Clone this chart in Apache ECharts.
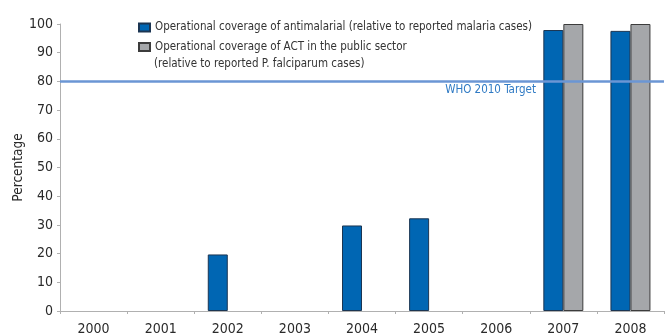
<!DOCTYPE html>
<html>
<head>
<meta charset="utf-8">
<script src="https://cdn.jsdelivr.net/npm/echarts@6/dist/echarts.min.js"></script>
<style>
  html, body { margin: 0; padding: 0; background: #fff; }
  #chart { width: 665px; height: 336px; }
</style>
</head>
<body>
<div id="chart"></div>
<script>
// Years on the category axis
const years = ['2000', '2001', '2002', '2003', '2004', '2005', '2006', '2007', '2008'];

// Operational coverage of antimalarial (% of reported malaria cases)
const antimalarialCoverage = [null, null, 19.7, null, 29.8, 32.3, null, 97.9, 97.6];

// Operational coverage of ACT in the public sector (% of reported P. falciparum cases)
const actCoverage = [null, null, null, null, null, null, null, 100, 100];

// WHO 2010 target level
const targetValue = 80;
const targetLabel = 'WHO 2010 Target';

// Legend wording; the second entry wraps onto a note line
const seriesNames = [
  'Operational coverage of antimalarial (relative to reported malaria cases)',
  'Operational coverage of ACT in the public sector'
];
const actNote = '(relative to reported P. falciparum cases)';

const FONT = "'DejaVu Sans Condensed', 'Liberation Sans Narrow', sans-serif";
const LEGEND_SIZE = 11.5;

const chart = echarts.init(document.getElementById('chart'), null, { renderer: 'canvas' });

chart.setOption({
  animation: false,
  backgroundColor: '#ffffff',
  textStyle: { fontFamily: FONT },
  grid: { left: 60, right: 1, top: 24, bottom: 25, containLabel: false, outerBoundsMode: 'none' },
  legend: {
    orient: 'vertical',
    left: 138,
    top: 21.5,
    padding: 0,
    itemWidth: 11,
    itemHeight: 8,
    itemGap: 7.5,
    icon: 'rect',
    textStyle: { fontFamily: FONT, fontSize: LEGEND_SIZE, color: '#333' },
    data: seriesNames
  },
  graphic: [
    {
      type: 'text',
      left: 154,
      top: 58,
      silent: true,
      style: { text: actNote, fontFamily: FONT, fontSize: LEGEND_SIZE, fill: '#333' }
    }
  ],
  xAxis: {
    type: 'category',
    data: years,
    axisLine: { lineStyle: { color: '#b0b0b0', width: 1 } },
    axisTick: { show: true, alignWithLabel: false, length: 3, lineStyle: { color: '#b0b0b0' } },
    axisLabel: { color: '#2a2a2a', fontSize: 14, fontFamily: FONT, margin: 11 }
  },
  yAxis: {
    type: 'value',
    min: 0,
    max: 100,
    interval: 10,
    name: 'Percentage',
    nameLocation: 'middle',
    nameGap: 35,
    nameMoveOverlap: false,
    nameRotate: 90,
    nameTextStyle: { color: '#2a2a2a', fontSize: 13.5, fontFamily: FONT },
    axisLine: { show: true, lineStyle: { color: '#b0b0b0', width: 1 } },
    axisTick: { show: true, length: 3, lineStyle: { color: '#b0b0b0' } },
    axisLabel: { color: '#2a2a2a', fontSize: 14, fontFamily: FONT, margin: 7 },
    splitLine: { show: false }
  },
  series: [
    {
      name: seriesNames[0],
      type: 'bar',
      data: antimalarialCoverage,
      barWidth: 20,
      barGap: '0%',
      itemStyle: { color: '#0066b3', borderColor: '#1b3552', borderWidth: 1 },
      markLine: {
        symbol: 'none',
        silent: true,
        z: 5,
        lineStyle: { color: '#6b96d4', width: 2.5, type: 'solid' },
        label: {
          show: true,
          position: 'insideEndBottom',
          formatter: targetLabel,
          color: '#2f7ac4',
          fontSize: LEGEND_SIZE,
          fontFamily: FONT,
          distance: [128, 3]
        },
        data: [{ yAxis: targetValue }]
      }
    },
    {
      name: seriesNames[1],
      type: 'bar',
      data: actCoverage,
      barWidth: 20,
      barGap: '0%',
      itemStyle: { color: '#a5a7aa', borderColor: '#3c3c3c', borderWidth: 1 }
    }
  ]
});
</script>
</body>
</html>
